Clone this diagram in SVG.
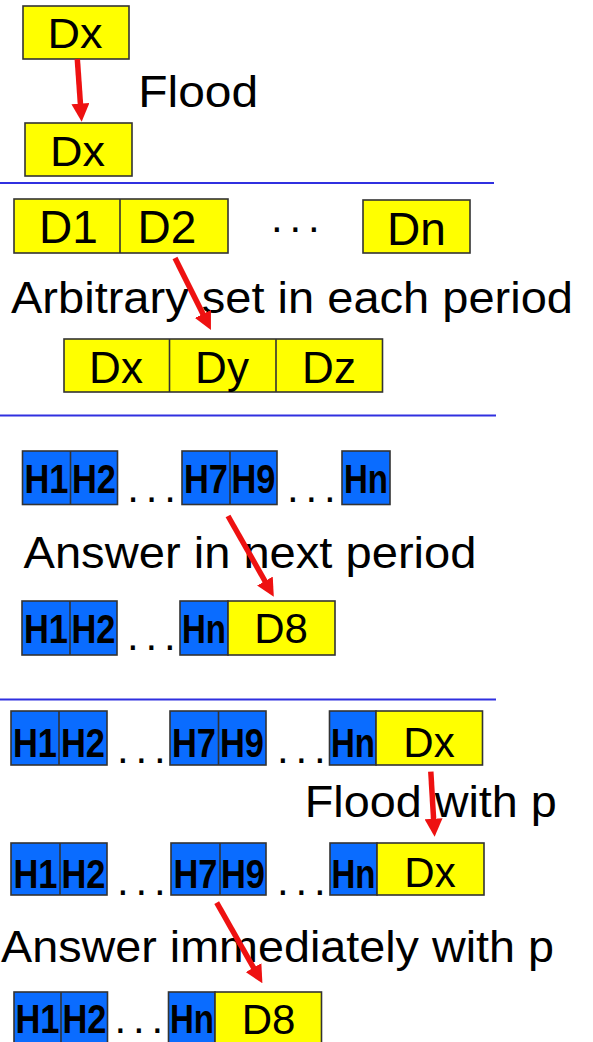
<svg xmlns="http://www.w3.org/2000/svg" width="593" height="1042" viewBox="0 0 593 1042">
  <defs>
    <style>
      .y { fill: #FFFF00; stroke: #333; stroke-width: 1.6; }
      .b { fill: #0A6CFF; stroke: #333; stroke-width: 1.6; }
      .div { stroke: #333; stroke-width: 1.6; }
      .t { font-family: "Liberation Sans", Arial, sans-serif; font-size: 44px; fill: #000; }
      .lbl { font-family: "Liberation Sans", Arial, sans-serif; fill: #000; text-anchor: middle; }
      .h { font-family: "Liberation Sans", Arial, sans-serif; font-weight: bold; font-size: 40px; fill: #000; text-anchor: middle; }
      .dots { font-family: "Liberation Sans", Arial, sans-serif; font-size: 42px; letter-spacing: 6.8px; fill: #000; }
      .sep { stroke: #3030E0; stroke-width: 2; }
      .arrow { stroke: #EE1111; stroke-width: 5.5; fill: none; marker-end: url(#head); }
    </style>
    <marker id="head" markerUnits="userSpaceOnUse" markerWidth="18" markerHeight="18" viewBox="0 0 18 18" refX="4" refY="9" orient="auto">
      <path d="M0,0 L18,9 L0,18 z" fill="#EE1111"/>
    </marker>
  </defs>

  <!-- section separators -->
  <g id="separators">
    <line class="sep" x1="0" y1="183" x2="494" y2="183"/>
    <line class="sep" x1="0" y1="415.5" x2="496" y2="415.5"/>
    <line class="sep" x1="0" y1="699.5" x2="496" y2="699.5"/>
  </g>

  <!-- section 1: flood -->
  <g id="s1-dx-top">
    <rect class="y" x="23" y="6" width="106" height="53"/>
    <text class="lbl" x="75" y="47.7" font-size="43" textLength="55" lengthAdjust="spacingAndGlyphs">Dx</text>
  </g>
  <g id="s1-dx-bottom">
    <rect class="y" x="25" y="123" width="107" height="53"/>
    <text class="lbl" x="77.5" y="165.7" font-size="43" textLength="55" lengthAdjust="spacingAndGlyphs">Dx</text>
  </g>

  <!-- section 2: arbitrary set -->
  <g id="s2-d1-d2">
    <rect class="y" x="14" y="199" width="214" height="54"/>
    <line class="div" x1="120" y1="199" x2="120" y2="253"/>
    <text class="lbl" x="68.5" y="243.3" font-size="46">D1</text>
    <text class="lbl" x="167" y="243.3" font-size="46">D2</text>
  </g>
  <g id="s2-dn">
    <rect class="y" x="363" y="200" width="107" height="53"/>
    <text class="lbl" x="416.5" y="244.5" font-size="46">Dn</text>
  </g>
  <g id="s2-dxyz">
    <rect class="y" x="64" y="339" width="318.5" height="53"/>
    <line class="div" x1="169.5" y1="339" x2="169.5" y2="392"/>
    <line class="div" x1="276" y1="339" x2="276" y2="392"/>
    <text class="lbl" x="116" y="383.3" font-size="44">Dx</text>
    <text class="lbl" x="222" y="383.3" font-size="44">Dy</text>
    <text class="lbl" x="329" y="383.3" font-size="44">Dz</text>
  </g>

  <!-- section 3: answer in next period -->
  <g id="s3-h1-h2">
    <rect class="b" x="22.5" y="451" width="95" height="53.5"/>
    <line class="div" x1="70.5" y1="451" x2="70.5" y2="504.5"/>
    <text class="h" x="46.5" y="493.3" textLength="44" lengthAdjust="spacingAndGlyphs">H1</text>
    <text class="h" x="94" y="493.3" textLength="44" lengthAdjust="spacingAndGlyphs">H2</text>
  </g>
  <g id="s3-h7-h9">
    <rect class="b" x="182" y="451" width="95" height="53.5"/>
    <line class="div" x1="230" y1="451" x2="230" y2="504.5"/>
    <text class="h" x="206" y="493.3" textLength="44" lengthAdjust="spacingAndGlyphs">H7</text>
    <text class="h" x="253.5" y="493.3" textLength="44" lengthAdjust="spacingAndGlyphs">H9</text>
  </g>
  <g id="s3-hn">
    <rect class="b" x="342" y="451" width="48" height="53.5"/>
    <text class="h" x="366" y="493.3" textLength="44" lengthAdjust="spacingAndGlyphs">Hn</text>
  </g>
  <g id="s3-h1-h2-next">
    <rect class="b" x="22" y="601" width="95" height="54"/>
    <line class="div" x1="70" y1="601" x2="70" y2="655"/>
    <text class="h" x="46" y="643.3" textLength="44" lengthAdjust="spacingAndGlyphs">H1</text>
    <text class="h" x="93.5" y="643.3" textLength="44" lengthAdjust="spacingAndGlyphs">H2</text>
  </g>
  <g id="s3-hn-d8">
    <rect class="b" x="180" y="601" width="48" height="54"/>
    <rect class="y" x="228" y="601" width="107" height="54"/>
    <text class="h" x="204" y="643.3" textLength="44" lengthAdjust="spacingAndGlyphs">Hn</text>
    <text class="lbl" x="281" y="643.3" font-size="42">D8</text>
  </g>

  <!-- section 4: flood / answer with probability p -->
  <g id="s4-h1-h2">
    <rect class="b" x="11" y="711" width="96" height="54"/>
    <line class="div" x1="59" y1="711" x2="59" y2="765"/>
    <text class="h" x="35" y="756.7" textLength="44" lengthAdjust="spacingAndGlyphs">H1</text>
    <text class="h" x="83" y="756.7" textLength="44" lengthAdjust="spacingAndGlyphs">H2</text>
  </g>
  <g id="s4-h7-h9">
    <rect class="b" x="170" y="711" width="96" height="54"/>
    <line class="div" x1="218.5" y1="711" x2="218.5" y2="765"/>
    <text class="h" x="194" y="756.7" textLength="44" lengthAdjust="spacingAndGlyphs">H7</text>
    <text class="h" x="242" y="756.7" textLength="44" lengthAdjust="spacingAndGlyphs">H9</text>
  </g>
  <g id="s4-hn-dx">
    <rect class="b" x="329.5" y="711" width="46.5" height="54"/>
    <rect class="y" x="376" y="711" width="106.5" height="54"/>
    <text class="h" x="353" y="756.7" textLength="44" lengthAdjust="spacingAndGlyphs">Hn</text>
    <text class="lbl" x="429" y="756.7" font-size="42">Dx</text>
  </g>
  <g id="s4-h1-h2-flood">
    <rect class="b" x="11" y="843" width="96" height="52"/>
    <line class="div" x1="60" y1="843" x2="60" y2="895"/>
    <text class="h" x="35.5" y="887.5" textLength="44" lengthAdjust="spacingAndGlyphs">H1</text>
    <text class="h" x="83.5" y="887.5" textLength="44" lengthAdjust="spacingAndGlyphs">H2</text>
  </g>
  <g id="s4-h7-h9-flood">
    <rect class="b" x="171" y="843" width="95" height="52"/>
    <line class="div" x1="220" y1="843" x2="220" y2="895"/>
    <text class="h" x="195.5" y="887.5" textLength="44" lengthAdjust="spacingAndGlyphs">H7</text>
    <text class="h" x="243" y="887.5" textLength="44" lengthAdjust="spacingAndGlyphs">H9</text>
  </g>
  <g id="s4-hn-dx-flood">
    <rect class="b" x="330" y="843" width="47" height="52"/>
    <rect class="y" x="377" y="843" width="107" height="52"/>
    <text class="h" x="353.5" y="887.5" textLength="44" lengthAdjust="spacingAndGlyphs">Hn</text>
    <text class="lbl" x="430" y="887" font-size="42">Dx</text>
  </g>
  <g id="s4-h1-h2-answer">
    <rect class="b" x="14" y="992" width="93.5" height="60"/>
    <line class="div" x1="61" y1="992" x2="61" y2="1052"/>
    <text class="h" x="37.5" y="1033.3" textLength="44" lengthAdjust="spacingAndGlyphs">H1</text>
    <text class="h" x="84.5" y="1033.3" textLength="44" lengthAdjust="spacingAndGlyphs">H2</text>
  </g>
  <g id="s4-hn-d8">
    <rect class="b" x="168.5" y="992" width="46.5" height="60"/>
    <rect class="y" x="215" y="992" width="106.5" height="60"/>
    <text class="h" x="192" y="1033.3" textLength="44" lengthAdjust="spacingAndGlyphs">Hn</text>
    <text class="lbl" x="268.5" y="1034" font-size="42">D8</text>
  </g>

  <!-- free captions and ellipses -->
  <g id="captions">
    <text class="t" x="138.2" y="107.3" textLength="120" lengthAdjust="spacingAndGlyphs">Flood</text>
    <text class="t" x="11" y="313.3" textLength="562" lengthAdjust="spacingAndGlyphs">Arbitrary set in each period</text>
    <text class="t" x="23.5" y="568.3" textLength="453" lengthAdjust="spacingAndGlyphs">Answer in next period</text>
    <text class="t" x="304.8" y="816.7" textLength="252" lengthAdjust="spacingAndGlyphs">Flood with p</text>
    <text class="t" x="1" y="961.7" textLength="553" lengthAdjust="spacingAndGlyphs">Answer immediately with p</text>
    <text class="dots" x="271" y="232">...</text>
    <text class="dots" x="127.3" y="502">...</text>
    <text class="dots" x="287" y="502">...</text>
    <text class="dots" x="127" y="650">...</text>
    <text class="dots" x="117" y="763">...</text>
    <text class="dots" x="277" y="763">...</text>
    <text class="dots" x="117" y="895">...</text>
    <text class="dots" x="277" y="895">...</text>
    <text class="dots" x="114.5" y="1033">...</text>
  </g>

  <!-- connectors -->
  <g id="connectors">
    <line class="arrow" x1="77.3" y1="59" x2="80.7" y2="107.7"/>
    <line class="arrow" x1="175" y1="258" x2="204.7" y2="317.5"/>
    <line class="arrow" x1="228" y1="516" x2="266.9" y2="584.5"/>
    <line class="arrow" x1="430.8" y1="771.7" x2="433.8" y2="822.7"/>
    <line class="arrow" x1="216.7" y1="902.7" x2="255.5" y2="971.1"/>
  </g>
</svg>
